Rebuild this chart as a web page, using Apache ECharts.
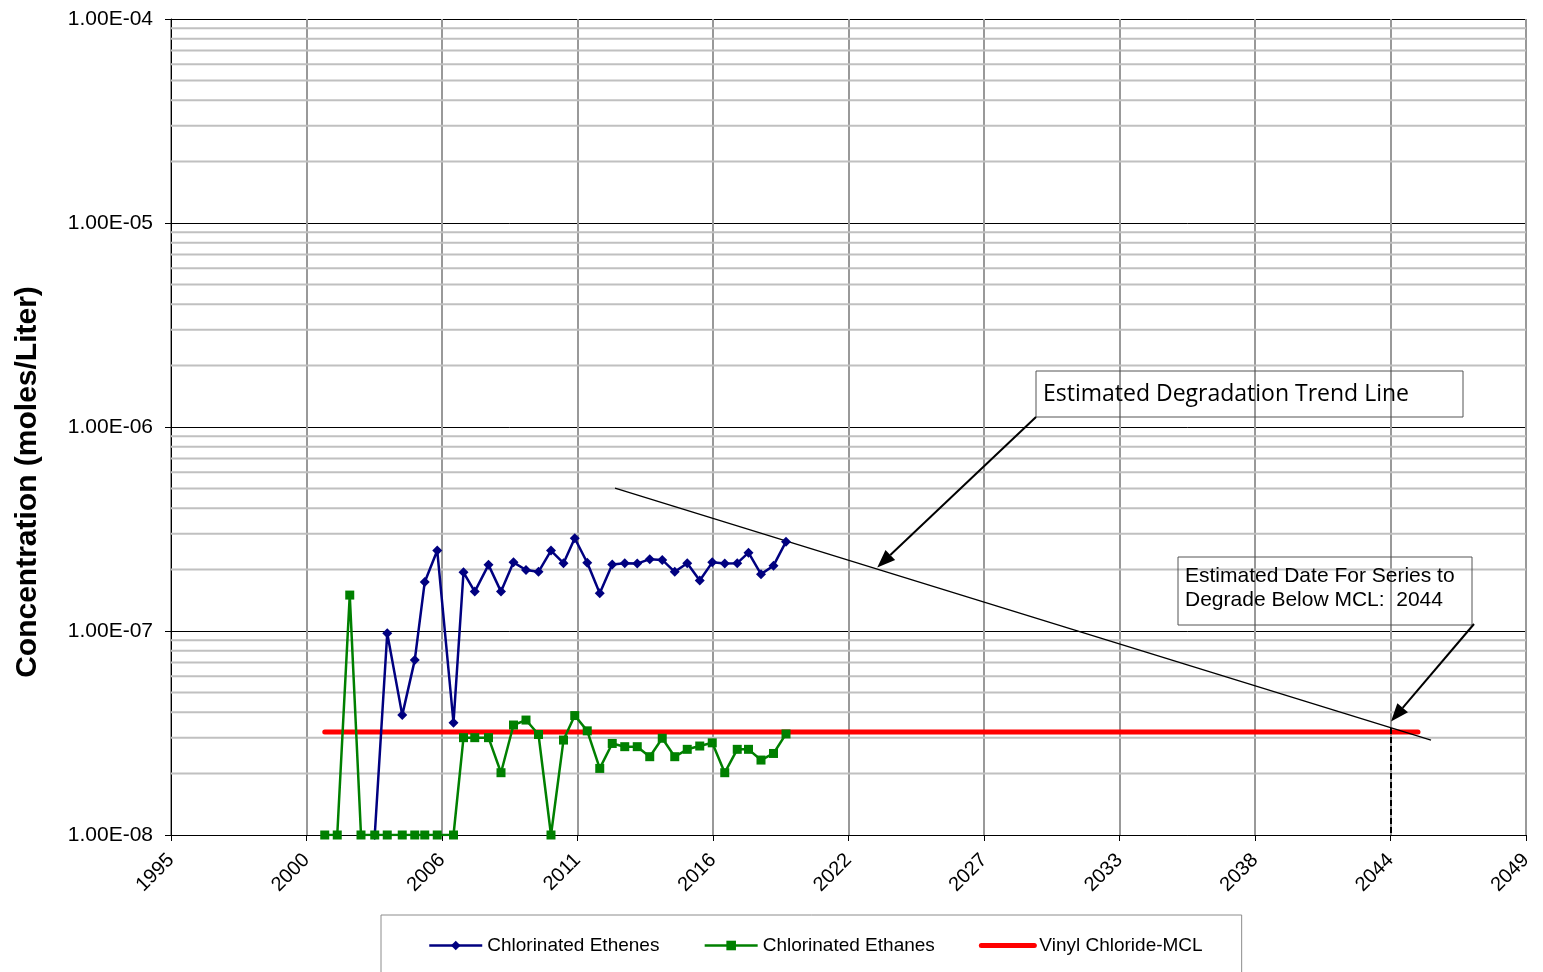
<!DOCTYPE html>
<html>
<head>
<meta charset="utf-8">
<script src="https://cdn.jsdelivr.net/npm/echarts@6/dist/echarts.min.js"></script>
<style>
  html, body { margin: 0; padding: 0; background: #ffffff; }
  #chart { width: 1543px; height: 972px; }
</style>
</head>
<body>
<div id="chart"></div>
<script>
// Sampling dates (decimal years)
const sampleYears = [
  2001.4, 2001.9, 2002.4, 2002.85, 2003.4, 2003.9, 2004.5, 2005.0, 2005.4, 2005.9,
  2006.55, 2006.95, 2007.4, 2007.95, 2008.45, 2008.95, 2009.45, 2009.95, 2010.45, 2010.95,
  2011.4, 2011.9, 2012.4, 2012.9, 2013.4, 2013.9, 2014.4, 2014.9, 2015.4, 2015.9,
  2016.4, 2016.9, 2017.4, 2017.9, 2018.35, 2018.85, 2019.35, 2019.85
];

// Total chlorinated ethenes (moles/L)
const etheneValues = [
  null, null, null, null, 1.0e-8, 9.75e-8, 3.87e-8, 7.2e-8, 1.74e-7, 2.48e-7,
  3.55e-8, 1.94e-7, 1.56e-7, 2.11e-7, 1.56e-7, 2.17e-7, 1.99e-7, 1.95e-7, 2.48e-7, 2.15e-7,
  2.85e-7, 2.16e-7, 1.53e-7, 2.12e-7, 2.15e-7, 2.14e-7, 2.25e-7, 2.23e-7, 1.95e-7, 2.15e-7,
  1.77e-7, 2.17e-7, 2.14e-7, 2.15e-7, 2.42e-7, 1.90e-7, 2.09e-7, 2.74e-7
];

// Total chlorinated ethanes (moles/L)
const ethaneValues = [
  1.0e-8, 1.0e-8, 1.5e-7, 1.0e-8, 1.0e-8, 1.0e-8, 1.0e-8, 1.0e-8, 1.0e-8, 1.0e-8,
  1.0e-8, 3.0e-8, 3.0e-8, 3.0e-8, 2.02e-8, 3.46e-8, 3.66e-8, 3.11e-8, 1.0e-8, 2.92e-8,
  3.85e-8, 3.24e-8, 2.12e-8, 2.81e-8, 2.71e-8, 2.71e-8, 2.42e-8, 2.98e-8, 2.42e-8, 2.63e-8,
  2.73e-8, 2.83e-8, 2.02e-8, 2.63e-8, 2.63e-8, 2.33e-8, 2.51e-8, 3.13e-8
];

// Vinyl chloride MCL (moles/L) and the span it is drawn over
const mclValue = 3.2e-8;
const mclYears = [2001.4, 2045.13];

// Estimated degradation trend (exponential, straight on the log axis)
const trendYears = [2013.01, 2045.65];
const trendValues = [5.02e-7, 2.92e-8];

// Estimated date the series drops below the MCL
const crossingYear = 2044.05;
const crossingValues = [3.35e-8, 1.0e-8];

// Callout arrow targets [year, value]
const trendArrowTip = [2023.5, 2.05e-7];
const crossingArrowTip = [2044.05, 3.6e-8];

// Axis ticks
const xTickStart = 1995.25;
const xTickStep = 5.42;
const xTickLabels = ['1995', '2000', '2006', '2011', '2016', '2022', '2027', '2033', '2038', '2044', '2049'];
const yTickLabels = ['1.00E-08', '1.00E-07', '1.00E-06', '1.00E-05', '1.00E-04'];

const seriesNames = ['Chlorinated Ethenes', 'Chlorinated Ethanes', 'Vinyl Chloride-MCL'];

// x is plotted in tick units so that tick 0 sits on the axis minimum
const toX = (year) => (year - xTickStart) / xTickStep;
const pairs = (xs, ys) => xs.map((x, i) => [toX(x), ys[i]]);

const FONT = '"Liberation Sans", Arial, sans-serif';
const X_MAX = xTickLabels.length - 1;

// minor (2..9) gridlines inside each decade, drawn as plain horizontal lines
const minorGridSeries = [];
for (let e = -8; e < -4; e++) {
  for (let k = 2; k <= 9; k++) {
    const v = k * Math.pow(10, e);
    minorGridSeries.push({
      name: 'minor-' + e + '-' + k,
      type: 'line',
      data: [[0, v], [X_MAX, v]],
      symbol: 'none',
      silent: true,
      z: 1,
      lineStyle: { color: '#c0c0c0', width: 2 },
      emphasis: { disabled: true },
      tooltip: { show: false }
    });
  }
}

const chart = echarts.init(document.getElementById('chart'), null, { renderer: 'canvas' });

const option = {
  animation: false,
  backgroundColor: '#ffffff',
  textStyle: { fontFamily: FONT },
  grid: { left: 171, right: 17, top: 19, bottom: 137, containLabel: false },
  xAxis: {
    type: 'value',
    min: 0,
    max: X_MAX,
    interval: 1,
    axisLine: { show: true, onZero: false, lineStyle: { color: '#000', width: 1 } },
    axisTick: { show: true, inside: false, length: 6, lineStyle: { color: '#000' } },
    axisLabel: {
      rotate: 45,
      margin: 22,
      fontSize: 20,
      color: '#000',
      fontFamily: FONT,
      formatter: (v) => xTickLabels[Math.round(v)]
    },
    splitLine: { show: true, lineStyle: { color: '#999999', width: 2 } }
  },
  yAxis: {
    type: 'log',
    logBase: 10,
    min: 1e-8,
    max: 1e-4,
    axisLine: { show: true, lineStyle: { color: '#000', width: 1 } },
    axisTick: { show: true, inside: false, length: 6, lineStyle: { color: '#000' } },
    axisLabel: {
      margin: 18,
      fontSize: 21,
      color: '#000',
      fontFamily: FONT,
      formatter: (v) => yTickLabels[Math.round(Math.log10(v)) + 8]
    },
    splitLine: { show: true, lineStyle: { color: '#000', width: 1 } },
    minorTick: { show: false },
    minorSplitLine: { show: false }
  },
  legend: {
    data: [
      { name: seriesNames[0], lineStyle: { width: 2.5 } },
      { name: seriesNames[1], lineStyle: { width: 2.5 } },
      { name: seriesNames[2], lineStyle: { width: 5 }, itemStyle: { opacity: 0 } }
    ],
    left: 381,
    top: 915,
    orient: 'horizontal',
    itemWidth: 53,
    itemHeight: 12,
    itemGap: 44,
    padding: [21, 39, 22, 47],
    borderColor: '#8c8c8c',
    borderWidth: 1,
    backgroundColor: '#ffffff',
    textStyle: { fontSize: 19, color: '#000', fontFamily: FONT },
    selectedMode: false
  },
  series: [
    ...minorGridSeries,
    {
      name: seriesNames[2],
      type: 'line',
      data: pairs(mclYears, [mclValue, mclValue]),
      symbol: 'none',
      z: 3,
      color: '#ff0000',
      lineStyle: { color: '#ff0000', width: 5, cap: 'round' }
    },
    {
      name: 'trend',
      type: 'line',
      data: pairs(trendYears, trendValues),
      symbol: 'none',
      silent: true,
      z: 4,
      lineStyle: { color: '#000', width: 1.3 }
    },
    {
      name: 'crossing',
      type: 'line',
      data: pairs([crossingYear, crossingYear], crossingValues),
      symbol: 'none',
      silent: true,
      z: 4,
      lineStyle: { color: '#000', width: 2, type: [6, 3] }
    },
    {
      name: seriesNames[0],
      type: 'line',
      data: pairs(sampleYears, etheneValues),
      symbol: 'diamond',
      symbolSize: 10,
      connectNulls: false,
      z: 5,
      color: '#000080',
      itemStyle: { color: '#000080' },
      lineStyle: { color: '#000080', width: 2.5 }
    },
    {
      name: seriesNames[1],
      type: 'line',
      data: pairs(sampleYears, ethaneValues),
      symbol: 'rect',
      symbolSize: 9,
      z: 6,
      color: '#008000',
      itemStyle: { color: '#008000' },
      lineStyle: { color: '#008000', width: 2.5 }
    }
  ]
};

chart.setOption(option);

// Callout boxes, arrows and the vertical axis title
function arrow(tail, tip) {
  const dx = tip[0] - tail[0], dy = tip[1] - tail[1];
  const len = Math.hypot(dx, dy);
  const ux = dx / len, uy = dy / len;
  const hl = 18, hw = 7;
  const bx = tip[0] - ux * hl, by = tip[1] - uy * hl;
  return [
    { type: 'line', z: 20, shape: { x1: tail[0], y1: tail[1], x2: bx, y2: by },
      style: { stroke: '#000', lineWidth: 2 } },
    { type: 'polygon', z: 20,
      shape: { points: [tip, [bx - uy * hw, by + ux * hw], [bx + uy * hw, by - ux * hw]] },
      style: { fill: '#000' } }
  ];
}

const tip1 = chart.convertToPixel({ gridIndex: 0 }, [toX(trendArrowTip[0]), trendArrowTip[1]]);
const tip2 = chart.convertToPixel({ gridIndex: 0 }, [toX(crossingArrowTip[0]), crossingArrowTip[1]]);

chart.setOption({
  graphic: [
    { type: 'text', z: 21, x: 28, y: 482, rotation: Math.PI / 2,
      style: { text: 'Concentration (moles/Liter)', fill: '#000',
        font: 'bold 30px ' + FONT, textAlign: 'center', textVerticalAlign: 'middle' } },
    { type: 'rect', z: 20, shape: { x: 1036, y: 371, width: 427, height: 46 },
      style: { fill: 'none', stroke: '#555', lineWidth: 1 } },
    { type: 'text', z: 21, x: 1043, y: 394,
      style: { text: 'Estimated Degradation Trend Line', fill: '#000',
        font: '23px "Open Sans", sans-serif', textVerticalAlign: 'middle' } },
    { type: 'rect', z: 20, shape: { x: 1178, y: 557, width: 294, height: 68 },
      style: { fill: 'none', stroke: '#555', lineWidth: 1 } },
    { type: 'text', z: 21, x: 1185, y: 564,
      style: { text: 'Estimated Date For Series to\nDegrade Below MCL:  2044', fill: '#000',
        font: '21px ' + FONT, lineHeight: 24 } },
    ...arrow([1036, 417], tip1),
    ...arrow([1474, 624], tip2)
  ]
});
</script>
</body>
</html>
